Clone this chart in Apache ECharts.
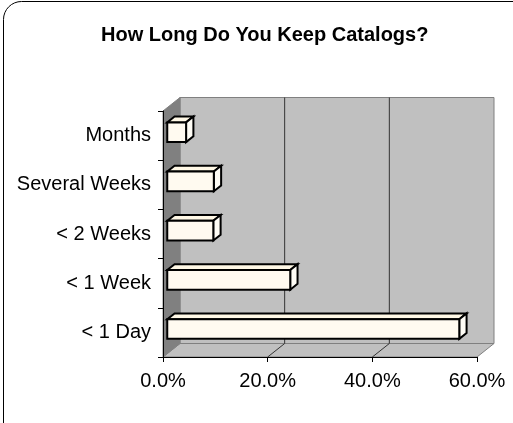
<!DOCTYPE html>
<html>
<head>
<meta charset="utf-8">
<script src="https://cdn.jsdelivr.net/npm/echarts@6/dist/echarts.min.js"></script>
<style>
  html, body { margin: 0; padding: 0; background: #fff; }
  #chart { width: 513px; height: 423px; }
</style>
</head>
<body>
<div id="chart"></div>
<script>
// data
var categories = ['< 1 Day', '< 1 Week', '< 2 Weeks', 'Several Weeks', 'Months'];
var values = [55.8, 23.5, 8.8, 8.9, 3.6];
var gridTicks = [20, 40];

// 3d look
var DX = 17, DY = 13.5;
var FRONT = 0.25, BACK = 0.68;
var FONT = 'Liberation Sans, Arial, sans-serif';

var chart = echarts.init(document.getElementById('chart'));

function renderWalls(params, api) {
    var cs = params.coordSys;
    var x = cs.x, y = cs.y, w = cs.width, h = cs.height;
    var kids = [];
    // back wall
    kids.push({
        type: 'rect',
        shape: { x: x + DX, y: y - DY, width: w, height: h },
        style: { fill: '#c0c0c0', stroke: '#808080', lineWidth: 1 }
    });
    // floor
    kids.push({
        type: 'polygon',
        shape: { points: [[x, y + h], [x + w, y + h], [x + w + DX, y + h - DY], [x + DX, y + h - DY]] },
        style: { fill: '#c0c0c0', stroke: '#808080', lineWidth: 1 }
    });
    // side wall
    kids.push({
        type: 'polygon',
        shape: { points: [[x, y], [x + DX, y - DY], [x + DX, y + h - DY], [x, y + h]] },
        style: { fill: '#808080', stroke: '#808080', lineWidth: 1 }
    });
    // gridlines on wall + floor
    gridTicks.forEach(function(t) {
        var px = api.coord([t, 0])[0];
        kids.push({
            type: 'polyline',
            shape: { points: [[px, y + h], [px + DX, y + h - DY], [px + DX, y - DY]] },
            style: { fill: null, stroke: '#333', lineWidth: 1 }
        });
    });
    return { type: 'group', children: kids, silent: true };
}

function renderBar(params, api) {
    var v = api.value(0);
    var c = api.value(1);
    var p0 = api.coord([0, c]);
    var p1 = api.coord([v, c]);
    var bh = api.size([0, 1])[1] * 0.4;
    var x0 = p0[0] + DX * FRONT, x1 = p1[0] + DX * FRONT;
    var yt = p0[1] - DY * FRONT - bh / 2, yb = yt + bh;
    var x0b = p0[0] + DX * BACK, x1b = p1[0] + DX * BACK;
    var ytb = p0[1] - DY * BACK - bh / 2, ybb = ytb + bh;
    var st = { stroke: '#000', lineWidth: 2, lineJoin: 'miter' };
    return {
        type: 'group',
        children: [
            { type: 'polygon', shape: { points: [[x0, yt], [x1, yt], [x1b, ytb], [x0b, ytb]] },
              style: Object.assign({ fill: '#fff8e6' }, st) },
            { type: 'polygon', shape: { points: [[x1, yt], [x1b, ytb], [x1b, ybb], [x1, yb]] },
              style: Object.assign({ fill: '#fffdf6' }, st) },
            { type: 'rect', shape: { x: x0, y: yt, width: x1 - x0, height: bh },
              style: Object.assign({ fill: '#fffaf0' }, st) }
        ]
    };
}

var option = {
    animation: false,
    textStyle: { fontFamily: FONT },
    graphic: [{
        type: 'rect',
        shape: { x: 3.5, y: 1.5, width: 540, height: 460, r: 18 },
        style: { fill: null, stroke: '#000', lineWidth: 1 },
        silent: true
    }],
    title: {
        text: 'How Long Do You Keep Catalogs?',
        left: 96,
        top: 20,
        textStyle: { fontSize: 20, fontWeight: 'bold', color: '#000', fontFamily: FONT }
    },
    grid: { left: 163, right: 36, top: 111, bottom: 66 },
    xAxis: {
        type: 'value',
        min: 0,
        max: 60,
        interval: 20,
        z: 5,
        splitLine: { show: false },
        axisLine: { show: true, lineStyle: { color: '#000', width: 1 } },
        axisTick: { show: true, length: 5, lineStyle: { color: '#000' } },
        axisLabel: {
            margin: 14,
            fontSize: 20,
            color: '#000',
            fontFamily: FONT,
            formatter: function(v) { return v.toFixed(1) + '%'; }
        }
    },
    yAxis: {
        type: 'category',
        data: categories,
        z: 5,
        axisLine: { show: true, lineStyle: { color: '#000', width: 1 } },
        axisTick: { show: true, length: 5, lineStyle: { color: '#000' } },
        axisLabel: { margin: 12, fontSize: 20, color: '#000', fontFamily: FONT }
    },
    series: [{
        name: 'walls',
        type: 'custom',
        z: 1,
        silent: true,
        renderItem: renderWalls,
        data: [[0, 0]],
        clip: false
    }, {
        name: 'Share',
        type: 'custom',
        z: 2,
        renderItem: renderBar,
        encode: { x: 0, y: 1 },
        data: values.map(function(v, i) { return [v, i]; }),
        clip: false
    }]
};

chart.setOption(option);
</script>
</body>
</html>
